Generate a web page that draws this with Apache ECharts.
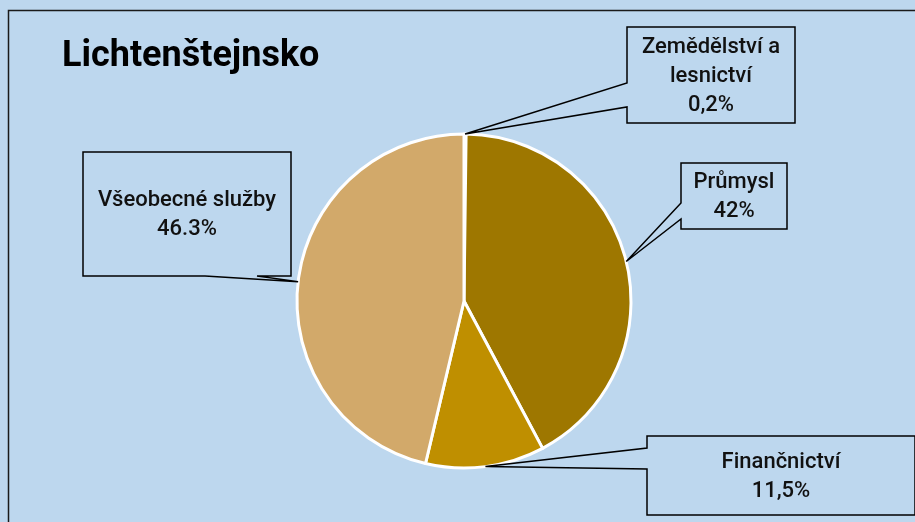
<!DOCTYPE html>
<html>
<head>
<meta charset="utf-8">
<script src="https://cdn.jsdelivr.net/npm/echarts@6/dist/echarts.min.js"></script>
<style>
  html, body { margin: 0; padding: 0; background: #BDD7EE; }
  #chart { width: 915px; height: 522px; }
</style>
</head>
<body>
<div id="chart"></div>
<script>
// data
var sectors = ['Zemědělství a lesnictví', 'Průmysl', 'Finančnictví', 'Všeobecné služby'];
var shares = [0.2, 42, 11.5, 46.3];
var shareTexts = ['0,2%', '42%', '11,5%', '46.3%'];
var labelLines = [['Zemědělství a', 'lesnictví'], ['Průmysl'], ['Finančnictví'], ['Všeobecné služby']];
var colors = ['#7F6000', '#9E7700', '#BF8F00', '#D2A96A'];

// layout of the pie and the callout boxes
var cx = 464, cy = 301, radius = 167;
// box: x, y, w, h; side where the pointer leaves: 'left' or 'bottom'; base from/to along that side
var callouts = [
  { x: 627, y: 27, w: 168, h: 96, side: 'left', a: 83, b: 107 },
  { x: 681, y: 163, w: 106, h: 66, side: 'left', a: 203, b: 219 },
  { x: 647, y: 436, w: 268, h: 79, side: 'left', a: 448, b: 469 },
  { x: 83, y: 152, w: 208, h: 124, side: 'bottom', a: 257, b: 205 }
];

var chart = echarts.init(document.getElementById('chart'));

var total = shares.reduce(function (s, v) { return s + v; }, 0);
var graphics = [{
  type: 'rect',
  shape: { x: 8.5, y: 10.5, width: 1000, height: 1000 },
  style: { fill: 'none', stroke: '#1a1a1a', lineWidth: 1.5 },
  silent: true
}, {
  type: 'text',
  x: 62, y: 57,
  style: {
    text: 'Lichtenštejnsko', fontFamily: 'Roboto', fontWeight: 'bold', fontSize: 36,
    fill: '#000', verticalAlign: 'middle'
  }
}];

var acc = 0;
shares.forEach(function (v, i) {
  var mid = (acc + v / 2) / total * Math.PI * 2;
  acc += v;
  var tx = cx + radius * Math.sin(mid), ty = cy - radius * Math.cos(mid);
  var c = callouts[i];
  var pts;
  if (c.side === 'left') {
    pts = [[c.x, c.y], [c.x + c.w, c.y], [c.x + c.w, c.y + c.h], [c.x, c.y + c.h],
      [c.x, c.b], [tx, ty], [c.x, c.a]];
  } else {
    var by = c.y + c.h;
    pts = [[c.x, c.y], [c.x + c.w, c.y], [c.x + c.w, by], [c.a, by], [tx, ty], [c.b, by], [c.x, by]];
  }
  graphics.push({
    type: 'polygon',
    shape: { points: pts },
    style: { fill: '#BDD7EE', stroke: '#000', lineWidth: 1.5 },
    z: 10
  });
  var lines = labelLines[i].concat([shareTexts[i]]);
  graphics.push({
    type: 'text',
    x: c.x + c.w / 2,
    y: c.y + c.h / 2 + 1,
    style: {
      text: lines.join('\n'),
      align: 'center', verticalAlign: 'middle',
      fontFamily: 'Roboto', fontWeight: 500, fontSize: 22, lineHeight: 29, fill: '#111'
    },
    z: 11
  });
});

var option = {
  backgroundColor: '#BDD7EE',
  animation: false,
  graphic: graphics,
  series: [{
    type: 'pie',
    center: [cx, cy],
    radius: [0, radius],
    startAngle: 90,
    clockwise: true,
    data: sectors.map(function (name, i) {
      return { name: name, value: shares[i], itemStyle: { color: colors[i] } };
    }),
    itemStyle: { borderColor: '#fff', borderWidth: 3 },
    label: { show: false },
    labelLine: { show: false }
  }]
};

chart.setOption(option);
</script>
</body>
</html>
